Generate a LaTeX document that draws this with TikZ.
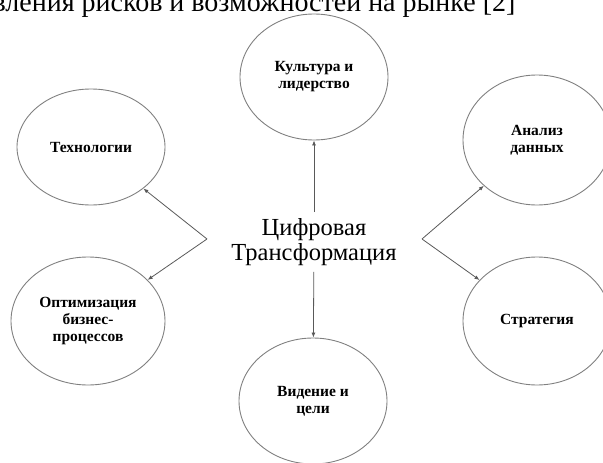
\documentclass[tikz,border=0pt]{standalone}
\usepackage{fontspec}
\setmainfont{Liberation Serif}
\usetikzlibrary{arrows.meta,shapes.geometric}

\begin{document}
\begin{tikzpicture}[x=1pt,y=-1pt,
      bub/.style={ellipse,draw=black!50,line width=0.9pt,fill=white,
                  minimum width=148pt,minimum height=126pt,inner sep=0pt,
                  align=center,font=\fontsize{15.5}{17}\selectfont\bfseries},
      arr/.style={draw=black!65,line width=0.8pt,
                  -{Latex[length=5pt,width=4pt]}}]
    \useasboundingbox (0,0) rectangle (603,463);
    \clip (0,0) rectangle (603,463);
    \node[anchor=base east,font=\fontsize{28}{30}\selectfont] (title) at (519,12)
      {вления рисков и возможностей на рынке [2]};
    \node[bub] (cult) at (314,77) {Культура и\\лидерство};
    \node[bub,minimum height=116pt] (tech) at (91,147) {Технологии};
    \node[bub,minimum height=130pt] (data) at (537,140) {Анализ\\данных};
    \node[bub,minimum width=154pt,minimum height=128pt] (opt) at (88,321)
      {Оптимизация\\бизнес-\\процессов};
    \node[bub,minimum height=128pt] (strat) at (537,321) {Стратегия};
    \node[bub] (goal) at (313,401) {Видение и\\цели};
    \node[align=center,inner xsep=2pt,inner ysep=6pt,
          font=\fontsize{24.5}{25}\selectfont] (dt) at (314,242)
      {Цифровая\\Трансформация};
    \coordinate (lj) at (207,239);
    \coordinate (rj) at (422,239);
    \draw[arr] (dt) -- (cult);
    \draw[arr] (dt) -- (goal);
    \foreach \j/\a/\b in {lj/tech/opt,rj/data/strat}{
      \draw[arr] (\j) -- (\a);
      \draw[arr] (\j) -- (\b);}
  \end{tikzpicture}
\end{document}
